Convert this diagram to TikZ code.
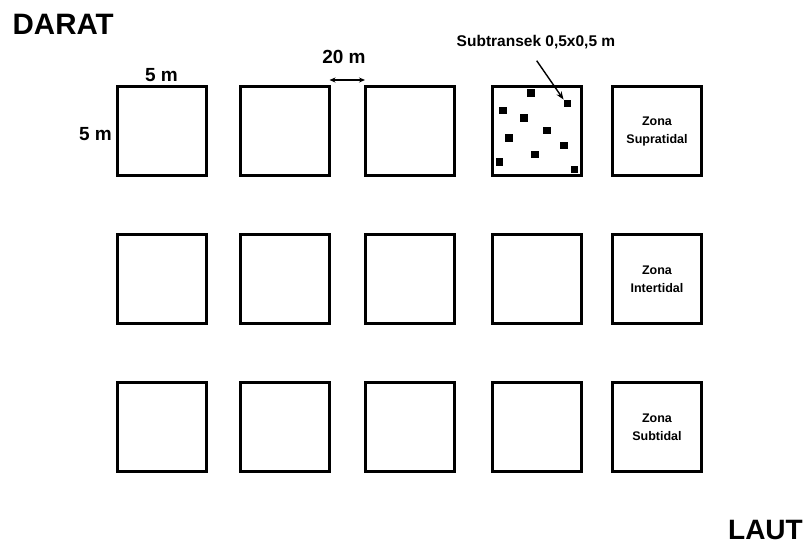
\documentclass[tikz,border=0pt]{standalone}
\usepackage{fontspec}
\setmainfont{Liberation Sans}
\usetikzlibrary{arrows.meta}
\begin{document}
\begin{tikzpicture}[x=1pt,y=-1pt,
  plot/.style={draw=black,line width=3pt,minimum size=89pt,inner sep=0pt,outer sep=0pt,fill=white},
  sub/.style={fill=black,minimum size=7.5pt,inner sep=0pt,outer sep=0pt},
  big/.style={font=\fontsize{28}{32}\selectfont\bfseries,inner sep=0pt,text depth=0pt},
  dim/.style={font=\fontsize{19}{22}\selectfont\bfseries,inner sep=0pt},
  zona/.style={font=\fontsize{12.5}{18}\selectfont\bfseries,align=center,inner sep=0pt}]
\useasboundingbox (0,0) rectangle (807,544);
% plots
\foreach \c/\x in {1/161.5,2/285,3/409.5,4/536.7,5/657}{
  \foreach \r/\y in {1/130.5,2/278.5,3/427}{
    \node[plot] (p\r\c) at (\x,\y) {};
  }
}
% subplots
\foreach \i/\x/\y in {a/531/93,b/567.3/103.3,c/503/110.7,d/524/118,e/547/130.7,f/509/138,g/564/145.3,h/535/154.7,i/499.7/162,j/574.7/169.3}{
  \node[sub] (s\i) at (\x,\y) {};
}
% labels
\node[big,font=\fontsize{29.5}{33}\selectfont\bfseries,anchor=base west] (darat) at (12.5,34) {DARAT};
\node[big,anchor=base east] (laut) at (803,539.5) {LAUT};
\node[dim] (w5) at (161.5,75) {5 m};
\node[dim,anchor=east] (h5) at (112,134) {5 m};
\node[dim] (d20) at (344,57) {20 m};
\node[font=\fontsize{15.5}{18}\selectfont\bfseries,inner sep=0pt] (subt) at (536,42) {Subtransek 0,5x0,5 m};
\node[zona] (z1) at (657,131) {Zona\\Supratidal};
\node[zona] (z2) at (657,279) {Zona\\Intertidal};
\node[zona] (z3) at (657,427) {Zona\\Subtidal};
% arrows
\coordinate (ga) at (p12.east |- 0,80);
\coordinate (gb) at (p13.west |- 0,80);
\draw[{Stealth[length=6pt,width=5pt]}-{Stealth[length=6pt,width=5pt]},line width=1.2pt] (ga) -- (gb);
\coordinate (st) at (536.7,60.7);
\draw[-{Stealth[length=8pt,width=6pt]},line width=1.4pt] (st) -- (sb.north west);
\end{tikzpicture}
\end{document}
